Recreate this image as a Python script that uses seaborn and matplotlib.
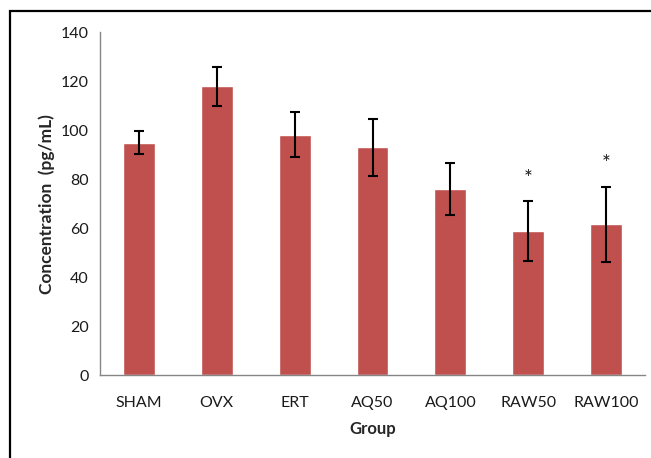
import pandas as pd
import numpy as np
import seaborn as sns
import matplotlib.pyplot as plt
from matplotlib.patches import Rectangle

# Data
groups = ['SHAM', 'OVX', 'ERT', 'AQ50', 'AQ100', 'RAW50', 'RAW100']
means = [95, 118, 98.2, 93.1, 75.9, 58.8, 61.6]
errors = [4.8, 7.9, 9.3, 11.7, 10.6, 12.3, 15.4]
significant = [False, False, False, False, False, True, True]

df = pd.DataFrame({'Group': groups, 'Concentration': means, 'SE': errors})

sns.set_style('white')
plt.rcParams['font.family'] = ['Lato', 'DejaVu Sans']

fig = plt.figure(figsize=(6.51, 4.58), dpi=100)
ax = fig.add_axes([0.1536, 0.1806, 0.8372, 0.7489])

# outer chart frame (Excel style)
fig.patches.append(Rectangle((10 / 651, -0.1), 1.2, 1.1 - 11 / 458,
                             transform=fig.transFigure, fill=False,
                             edgecolor='black', linewidth=1.6, zorder=0))

sns.barplot(data=df, x='Group', y='Concentration', color='#C0504D',
            width=0.41, errorbar=None, saturation=1, ax=ax)
ax.errorbar(np.arange(len(groups)), df['Concentration'], yerr=df['SE'],
            fmt='none', ecolor='black', elinewidth=1.5, capsize=3.5, capthick=1.5)

for i, sig in enumerate(significant):
    if sig:
        ax.text(i, means[i] + errors[i] + 5, '*', ha='center', va='bottom',
                fontsize=15, color='#1a1a1a')

ax.set_ylim(0, 140)
ax.set_xlim(-0.5, len(groups) - 0.5)
ax.set_yticks(range(0, 141, 20))

# x ticks at category boundaries
ax.set_xticks(np.arange(-0.5, len(groups), 1.0))
ax.set_xticklabels([])
ax.set_xticks(np.arange(len(groups)), minor=True)
ax.set_xticklabels(groups, minor=True)
ax.tick_params(axis='x', which='major', length=5, color='#868686', width=1, direction='out')
ax.tick_params(axis='x', which='minor', length=0, pad=15, labelsize=11.5, labelcolor='#1a1a1a')
ax.tick_params(axis='y', length=5, color='#868686', width=1, direction='out',
               labelsize=11.5, pad=3, labelcolor='#1a1a1a')

for s in ['top', 'right']:
    ax.spines[s].set_visible(False)
for s in ['left', 'bottom']:
    ax.spines[s].set_color('#868686')
    ax.spines[s].set_linewidth(1)

ax.set_xlabel('Group', fontsize=12, fontweight='bold', labelpad=8)
ax.set_ylabel('Concentration  (pg/mL)', fontsize=12.5, fontweight='bold', labelpad=4)

fig.savefig('out.png', dpi=100)
